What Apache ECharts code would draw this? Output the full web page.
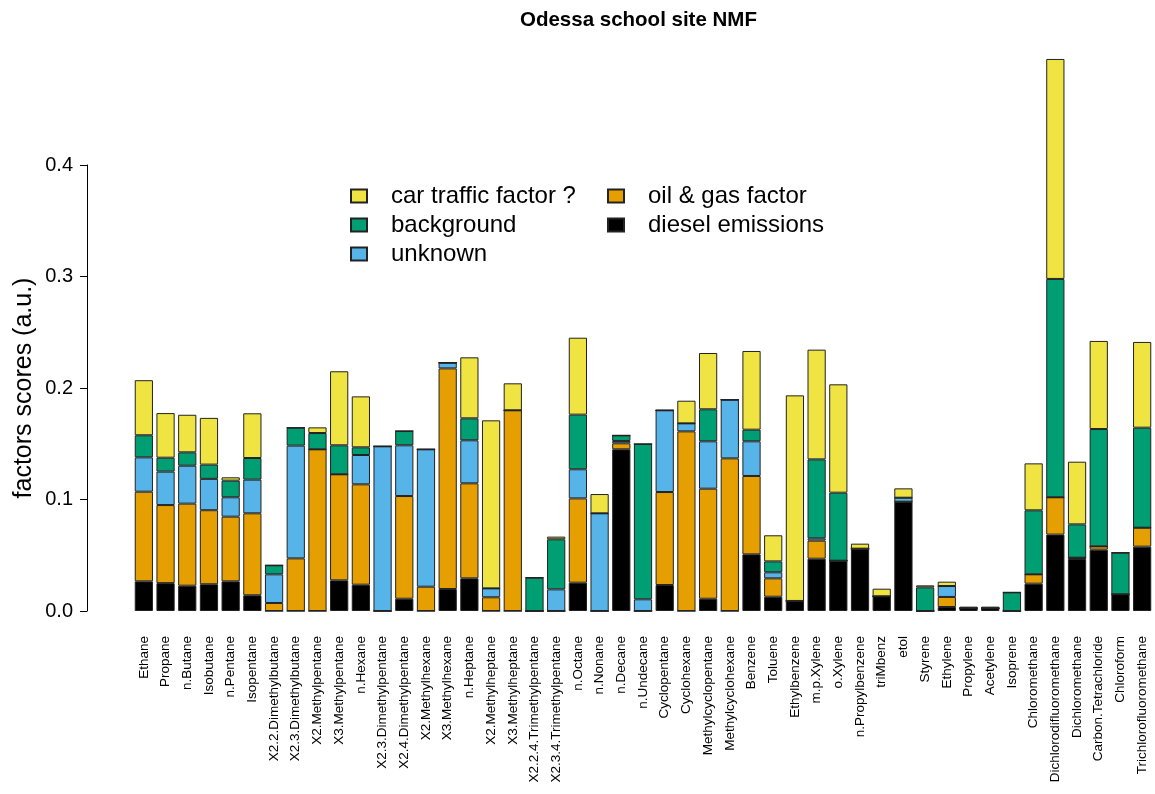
<!DOCTYPE html>
<html>
<head>
<meta charset="utf-8">
<script src="https://cdn.jsdelivr.net/npm/echarts@6/dist/echarts.min.js"></script>
<style>
  html, body { margin: 0; padding: 0; background: #fff; }
  #chart { width: 1155px; height: 794px; }
</style>
</head>
<body>
<div id="chart"></div>
<script>
const categories = ["Ethane","Propane","n.Butane","Isobutane","n.Pentane","Isopentane","X2.2.Dimethylbutane","X2.3.Dimethylbutane","X2.Methylpentane","X3.Methylpentane","n.Hexane","X2.3.Dimethylpentane","X2.4.Dimethylpentane","X2.Methylhexane","X3.Methylhexane","n.Heptane","X2.Methylheptane","X3.Methylheptane","X2.2.4.Trimethylpentane","X2.3.4.Trimethylpentane","n.Octane","n.Nonane","n.Decane","n.Undecane","Cyclopentane","Cyclohexane","Methylcyclopentane","Methylcyclohexane","Benzene","Toluene","Ethylbenzene","m.p.Xylene","o.Xylene","n.Propylbenzene","triMbenz","etol","Styrene","Ethylene","Propylene","Acetylene","Isoprene","Chloromethane","Dichlorodifluoromethane","Dichloromethane","Carbon.Tetrachloride","Chloroform","Trichlorofluoromethane"];

const dieselEmissions = [0.0266,0.025,0.0227,0.024,0.0266,0.0141,0,0,0,0.0275,0.0236,0,0.011,0,0.0197,0.0293,0,0,0,0,0.0254,0,0.145,0,0.0233,0,0.011,0,0.0508,0.0128,0.009,0.0469,0.0451,0.0559,0.0132,0.098,0,0.0036,0.0025,0.0025,0,0.0245,0.0685,0.0466,0.055,0.015,0.0577];
const oilGasFactor = [0.0804,0.070,0.0736,0.0664,0.058,0.0735,0.0072,0.0472,0.145,0.0951,0.09,0,0.0921,0.0218,0.1979,0.0852,0.0123,0.18,0,0,0.0756,0,0.0054,0,0.0834,0.1611,0.0987,0.1369,0.0703,0.0165,0,0.0162,0,0,0,0,0,0.009,0,0,0,0.0084,0.0335,0.0012,0.003,0,0.017];
const unknownFactor = [0.0308,0.030,0.034,0.0281,0.0174,0.0302,0.0257,0.1011,0,0,0.0263,0.1477,0.0455,0.1232,0.0051,0.0386,0.008,0,0,0.0194,0.0261,0.0876,0.0021,0.0105,0.0733,0.0072,0.0425,0.0526,0.0311,0.0054,0,0.0021,0,0,0,0.0036,0,0.0098,0,0,0,0,0,0,0,0,0];
const backgroundFactor = [0.0198,0.0125,0.012,0.0128,0.0149,0.0194,0.0081,0.0161,0.0146,0.026,0.0069,0,0.0128,0,0,0.0197,0,0,0.0299,0.0449,0.049,0,0.005,0.1393,0,0,0.0287,0,0.0104,0.0098,0,0.0708,0.061,0,0,0,0.0212,0,0,0,0.0167,0.0574,0.1958,0.0299,0.1052,0.0373,0.0897];
const carTrafficFactor = [0.0494,0.040,0.0337,0.0419,0.003,0.0401,0,0,0.0051,0.0664,0.0457,0,0,0,0,0.0547,0.1507,0.0242,0,0.0024,0.069,0.0173,0,0,0,0.0203,0.0505,0,0.0706,0.0234,0.1844,0.0984,0.0972,0.0045,0.0068,0.0084,0.0018,0.0039,0.0014,0.0014,0,0.0421,0.1973,0.0562,0.079,0,0.0769];

const yTicks = [0, 0.1, 0.2, 0.3, 0.4];

const FONT = 'Liberation Sans, Arial, sans-serif';
const chart = echarts.init(document.getElementById('chart'), null, { renderer: 'canvas' });

function mk(name, data, color) {
  return {
    name: name, type: 'bar', stack: 'total', data: data,
    xAxisIndex: 1, yAxisIndex: 1,
    barCategoryGap: '16%',
    itemStyle: { color: color, borderColor: '#222', borderWidth: 1 },
    emphasis: { disabled: true },
    animation: false
  };
}

const legendCommon = {
  orient: 'vertical', padding: 0,
  itemWidth: 16, itemHeight: 13, itemGap: 5,
  icon: 'rect',
  textStyle: { fontFamily: FONT, fontSize: 24, lineHeight: 24, color: '#000', padding: [0, 0, 0, 19] },
  selectedMode: false
};

chart.setOption({
  backgroundColor: '#ffffff',
  animation: false,
  title: {
    text: 'Odessa school site NMF',
    left: 515, top: 5,
    textStyle: { fontFamily: FONT, fontSize: 20.5, fontWeight: 'bold', color: '#000' }
  },
  legend: [
    Object.assign({ data: ['car traffic factor ?', 'background', 'unknown'], left: 350, top: 184 }, legendCommon),
    Object.assign({ data: ['oil & gas factor', 'diesel emissions'], left: 607, top: 184 }, legendCommon)
  ],
  grid: [
    { left: 87, top: 165, width: 1, height: 446 },
    { left: 133, top: 53.5, width: 1020, height: 557.5 }
  ],
  xAxis: [
    { gridIndex: 0, type: 'value', show: false },
    {
      gridIndex: 1, type: 'category', data: categories,
      axisLine: { show: false }, axisTick: { show: false },
      axisLabel: { interval: 0, rotate: 90, fontSize: 13.5, fontFamily: FONT, color: '#000', margin: 25 }
    }
  ],
  yAxis: [
    {
      gridIndex: 0, type: 'value', min: yTicks[0], max: yTicks[yTicks.length - 1], interval: 0.1,
      name: 'factors scores (a.u.)', nameLocation: 'middle', nameGap: 50,
      nameTextStyle: { fontFamily: FONT, fontSize: 25, color: '#000' },
      axisLine: { show: true, lineStyle: { color: '#000', width: 1 } },
      axisTick: { show: true, length: 7, lineStyle: { color: '#000' } },
      splitLine: { show: false },
      axisLabel: { fontFamily: FONT, fontSize: 20, color: '#000', margin: 14, formatter: v => v.toFixed(1) }
    },
    { gridIndex: 1, type: 'value', min: 0, max: 0.5, show: false, splitLine: { show: false } }
  ],
  series: [
    mk('diesel emissions', dieselEmissions, '#000000'),
    mk('oil & gas factor', oilGasFactor, '#E69F00'),
    mk('unknown', unknownFactor, '#56B4E9'),
    mk('background', backgroundFactor, '#009E73'),
    mk('car traffic factor ?', carTrafficFactor, '#F0E442')
  ]
});
</script>
</body>
</html>
